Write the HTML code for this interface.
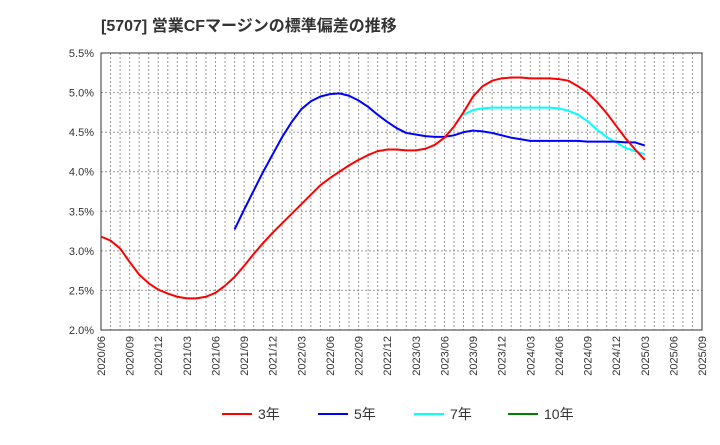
<!DOCTYPE html>
<html><head><meta charset="utf-8"><style>
body{margin:0;background:#fff;font-family:"Liberation Sans","Noto Sans CJK JP",sans-serif}
</style></head><body>
<svg width="720" height="440" xmlns="http://www.w3.org/2000/svg" font-family="Liberation Sans, Noto Sans CJK JP, sans-serif">
<text x="101" y="31" font-size="16" font-weight="bold" fill="#333">[5707]  営業CFマージンの標準偏差の推移</text>
<g id="grid"></g><g id="axes"></g><g id="series"></g><g id="legend"></g>
</svg>
<script>
const xLabels=["2020/06","2020/09","2020/12","2021/03","2021/06","2021/09","2021/12","2022/03","2022/06","2022/09","2022/12","2023/03","2023/06","2023/09","2023/12","2024/03","2024/06","2024/09","2024/12","2025/03","2025/06","2025/09"];
const yTicks=[2.0,2.5,3.0,3.5,4.0,4.5,5.0,5.5];
const s3Start=0;
const s3=[3.18,3.13,3.03,2.86,2.70,2.59,2.51,2.46,2.42,2.40,2.40,2.42,2.47,2.56,2.67,2.81,2.96,3.10,3.23,3.35,3.47,3.59,3.71,3.83,3.92,4.00,4.08,4.15,4.21,4.26,4.28,4.28,4.27,4.27,4.29,4.34,4.43,4.57,4.75,4.95,5.08,5.15,5.18,5.19,5.19,5.18,5.18,5.18,5.17,5.15,5.08,5.00,4.88,4.74,4.58,4.42,4.28,4.15];
const s5Start=14;
const s5=[3.27,3.52,3.76,4.00,4.22,4.44,4.63,4.79,4.89,4.95,4.98,4.99,4.96,4.90,4.82,4.72,4.63,4.55,4.49,4.47,4.45,4.44,4.44,4.46,4.50,4.52,4.51,4.49,4.46,4.43,4.41,4.39,4.39,4.39,4.39,4.39,4.39,4.38,4.38,4.38,4.38,4.37,4.37,4.33];
const s7Start=38;
const s7=[4.72,4.78,4.80,4.81,4.81,4.81,4.81,4.81,4.81,4.81,4.80,4.77,4.72,4.64,4.53,4.44,4.37,4.30,4.26,4.22];
const L=101,R=702,T=53,B=330,NM=63;
const xs=m=>L+m*(R-L)/NM, ys=v=>B-(v-2)*(B-T)/3.5;
const NS="http://www.w3.org/2000/svg";
function mk(p,tag,a){const e=document.createElementNS(NS,tag);for(const k in a)e.setAttribute(k,a[k]);p.appendChild(e);return e;}
const grid=document.getElementById('grid'),axes=document.getElementById('axes'),ser=document.getElementById('series'),leg=document.getElementById('legend');
for(let m=1;m<NM;m++){const l=mk(grid,'line',{x1:xs(m),x2:xs(m),y1:T,y2:B,stroke:'#999','stroke-dasharray':'2,2','stroke-width':1});

}
yTicks.forEach(v=>{if(v>2&&v<5.5){const l=mk(grid,'line',{x1:L,x2:R,y1:ys(v),y2:ys(v),stroke:'#999','stroke-dasharray':'2,2'});

}
const t=mk(axes,'text',{x:L-7,y:ys(v)+4,'text-anchor':'end','font-size':11,fill:'#333'});t.textContent=v.toFixed(1)+'%';

});
const fr=mk(axes,'rect',{x:L,y:T,width:R-L,height:B-T,fill:'none',stroke:'#333'});


xLabels.forEach((s,i)=>{const x=xs(i*3);const t=mk(axes,'text',{transform:`translate(${x+4},${B+6}) rotate(-90)`,'text-anchor':'end','font-size':11,fill:'#333'});t.textContent=s;

});
function line(arr,st,col,name){const p=mk(ser,'polyline',{points:arr.map((v,i)=>xs(st+i)+','+ys(v)).join(' '),fill:'none',stroke:col,'stroke-width':2,'stroke-linejoin':'round'});

}
line(s7,s7Start,'#00ffff','series-7yr');
line(s5,s5Start,'#0000ff','series-5yr');
line(s3,s3Start,'#ff0000','series-3yr');
[['3年','#ff0000',222],['5年','#0000ff',318],['7年','#00ffff',414],['10年','#008000',508]].forEach(([n,c,x])=>{
const g=mk(leg,'g',{});


mk(g,'line',{x1:x,x2:x+30,y1:414,y2:414,stroke:c,'stroke-width':2});
const t=mk(g,'text',{x:x+36,y:419,'font-size':14,fill:'#333'});t.textContent=n;});
</script>
</body></html>
